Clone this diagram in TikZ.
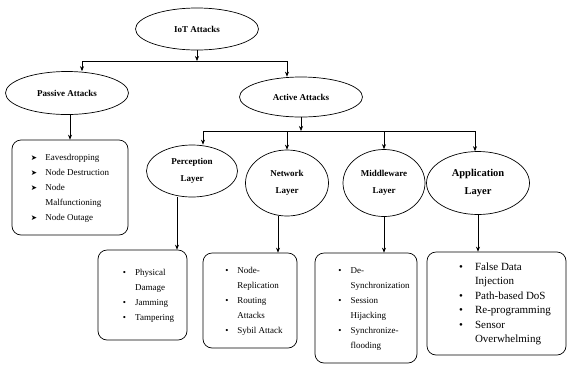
\documentclass[tikz,border=0pt]{standalone}
\usepackage{fontspec}
\setmainfont{Liberation Serif}
\newfontfamily\dejavu{DejaVu Sans}
\usetikzlibrary{shapes.geometric,arrows.meta}
\tikzset{
  oval/.style={ellipse, draw, line width=0.7pt, inner sep=0pt, align=center,
    font=\fontsize{9}{12}\selectfont\bfseries},
  listbox/.style={draw, rounded corners=9pt, line width=0.7pt, inner sep=0pt,
    font=\fontsize{9}{15}\selectfont},
  link/.style={line width=0.6pt},
  arr/.style={link, -{Stealth[length=5pt,width=4pt]}}
}
\newcommand{\arrbul}{{\dejavu\fontsize{7.5}{7.5}\selectfont\char"27A4}}
\begin{document}
\begin{tikzpicture}[x=1pt,y=-1pt]
  \useasboundingbox (0,0) rectangle (570,365);
  % ovals
  \node[oval, minimum width=123pt, minimum height=42pt] (iot) at (197,29) {IoT Attacks};
  \node[oval, minimum width=123pt, minimum height=43pt] (passive) at (67,93) {Passive Attacks};
  \node[oval, minimum width=123pt, minimum height=40pt] (active) at (301,97) {Active Attacks};
  \node[oval, minimum width=91pt, minimum height=52pt] (per) at (192,171) {Perception\\[5pt]Layer};
  \node[oval, minimum width=83pt, minimum height=66pt] (net) at (287,183) {Network\\[5pt]Layer};
  \node[oval, minimum width=82pt, minimum height=67pt] (mid) at (384,183) {Middleware\\[5pt]Layer};
  \node[oval, minimum width=103pt, minimum height=63pt,
    font=\fontsize{10.5}{13}\selectfont\bfseries] (app) at (478,183) {Application\\[5pt]Layer};
  % boxes
  \node[listbox, minimum width=116pt, minimum height=95pt] (pbox) at (70,187.5) {%
    \begin{tabular}{@{}l@{\hspace{8pt}}l@{}}
      \arrbul & Eavesdropping\\
      \arrbul & Node Destruction\\
      \arrbul & Node\\
              & Malfunctioning\\
      \arrbul & Node Outage
    \end{tabular}};
  \node[listbox, minimum width=89pt, minimum height=90pt] (perbox) at (142.5,295) {%
    \begin{tabular}{@{\hspace{12pt}}l@{\hspace{9pt}}l@{}}
      \textbullet & Physical\\
                  & Damage\\
      \textbullet & Jamming\\
      \textbullet & Tampering
    \end{tabular}};
  \node[listbox, minimum width=94pt, minimum height=95pt] (netbox) at (250,300.5) {%
    \begin{tabular}{@{\hspace{8pt}}l@{\hspace{9pt}}l@{}}
      \textbullet & Node-\\
                  & Replication\\
      \textbullet & Routing\\
                  & Attacks\\
      \textbullet & Sybil Attack
    \end{tabular}};
  \node[listbox, minimum width=102pt, minimum height=110pt] (midbox) at (366,308) {%
    \begin{tabular}{@{\hspace{16pt}}l@{\hspace{9pt}}l@{}}
      \textbullet & De-\\
                  & Synchronization\\
      \textbullet & Session\\
                  & Hijacking\\
      \textbullet & Synchronize-\\
                  & flooding
    \end{tabular}};
  \node[listbox, minimum width=139pt, minimum height=103pt,
    font=\fontsize{11}{14.5}\selectfont] (appbox) at (496.5,303.5) {%
    \begin{tabular}{@{\hspace{17pt}}l@{\hspace{12pt}}l@{}}
      \textbullet & False Data\\
                  & Injection\\
      \textbullet & Path-based DoS\\
      \textbullet & Re-programming\\
      \textbullet & Sensor\\
                  & Overwhelming
    \end{tabular}};
  % IoT -> passive, active
  \coordinate (t1) at (82,61);
  \coordinate (t2) at (287,61);
  \draw[arr] (iot.south) -- (iot.south |- t1);
  \draw[link] (t1) -- (t2);
  \draw[arr] (t1) -- (t1 |- passive.north);
  \draw[arr] (t2) -- (t2 |- active.north);
  % active -> layers
  \coordinate (b1) at (203,131);
  \coordinate (b2) at (475,131);
  \draw[arr] (active.south) -- (active.south |- b1);
  \draw[link] (b1) -- (b2);
  \draw[arr] (b1) -- (b1 |- per.north);
  \draw[arr] (net.north |- b1) -- (net.north);
  \draw[arr] (mid.north |- b1) -- (mid.north);
  \draw[arr] (b2) -- (b2 |- app.north);
  % ovals -> boxes
  \draw[arr] (passive.south -| pbox.north) -- (pbox.north);
  \draw[arr] ([xshift=-15pt]per.south) -- ([xshift=-15pt]per.south |- perbox.north);
  \draw[arr] ([xshift=-9pt]net.south) -- ([xshift=-9pt]net.south |- netbox.north);
  \draw[arr] (mid.south) -- (mid.south |- midbox.north);
  \draw[arr] (app.south) -- (app.south |- appbox.north);
\end{tikzpicture}
\end{document}
